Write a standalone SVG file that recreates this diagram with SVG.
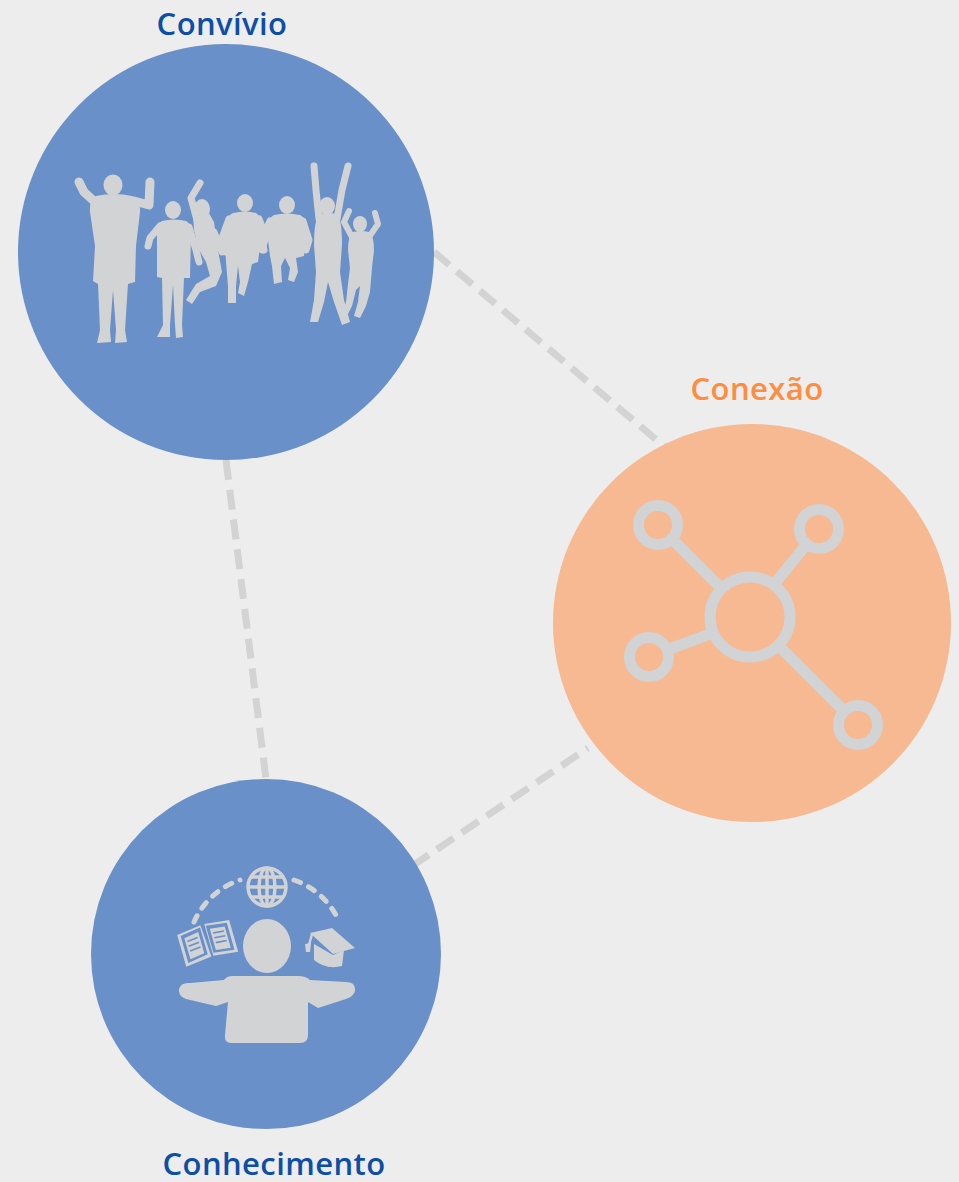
<svg xmlns="http://www.w3.org/2000/svg" width="959" height="1182" viewBox="0 0 959 1182">
  <style>
    .bg { fill: #ededed; }
    .blue { fill: #6990c8; }
    .orange { fill: #f6b992; }
    .link { stroke: #d3d3d3; stroke-width: 7; stroke-dasharray: 20 10; fill: none; }
    .ico { fill: #d1d3d5; }
    .limb { stroke: #d1d3d5; fill: none; stroke-linecap: round; stroke-linejoin: round; }
    .net { stroke: #d1d3d5; fill: none; }
    .label { font-family: "Open Sans", "Noto Sans", sans-serif; font-weight: 600; font-size: 31px; letter-spacing: 0.4px; text-anchor: middle; }
    .lb { fill: #0d4ea6; }
    .lo { fill: #ff8c3f; }
  </style>
  <rect class="bg" x="0" y="0" width="959" height="1182"/>

  <!-- dashed links between the three themes -->
  <g id="connectors">
    <line class="link" x1="434" y1="252" x2="665" y2="447"/>
    <line class="link" x1="226" y1="460" x2="266" y2="779"/>
    <line class="link" x1="412" y1="866" x2="588" y2="748"/>
  </g>

  <!-- Convívio: group of jumping people -->
  <g id="convivio">
    <circle class="blue" cx="226" cy="252" r="208"/>
    <text class="label lb" x="222" y="35">Convívio</text>
    <g class="people">
      <!-- adult, arms raised -->
      <ellipse class="ico" cx="113" cy="185" rx="9.5" ry="10.5"/>
      <path class="ico" d="M96,196 Q114,192 132,196 Q141,199 140,212 L136,246 L135,282 L128,284 L125,330 L127,342 L115,343 L116,330 L113,290 L110,330 L111,342 L97,343 L100,330 L98,284 L93,281 L95,246 L90,212 Q89,200 96,196 Z"/>
      <path class="limb" stroke-width="9" d="M95,202 L84,192 L79,182"/>
      <path class="limb" stroke-width="9" d="M134,201 L149,205 L150,182"/>
      <!-- boy standing -->
      <ellipse class="ico" cx="173" cy="210" rx="8" ry="9"/>
      <path class="ico" d="M162,221 Q174,218 186,221 Q192,224 191,236 L190,278 L184,278 L182,325 L183,337 L176,338 L175,325 L173,285 L170,325 L170,337 L157,337 L163,325 L162,278 L157,277 L157,236 Q156,224 162,221 Z"/>
      <path class="limb" stroke-width="7" d="M160,226 L150,238 L148,246"/>
      <path class="limb" stroke-width="7" d="M189,227 L196,250 L199,262"/>
      <!-- girl jumping, arm up -->
      <ellipse class="ico" cx="202" cy="209" rx="8" ry="10"/>
      <path class="ico" d="M193,214 Q196,204 206,208 L214,222 L218,250 L222,272 L216,286 L200,292 L192,304 L186,300 L196,284 L210,276 L206,262 L198,248 L194,230 Z"/>
      <path class="limb" stroke-width="7" d="M197,220 L191,198 L200,183"/>
      <path class="limb" stroke-width="7" d="M214,232 L222,252"/>
      <!-- boy with bent knees -->
      <ellipse class="ico" cx="245" cy="203" rx="8" ry="9"/>
      <path class="ico" d="M233,213 Q245,210 256,213 Q262,216 262,230 L258,262 L252,264 L248,282 L244,296 L238,293 L240,282 L238,266 L236,286 L236,303 L228,303 L228,286 L226,262 L224,230 Q225,216 233,213 Z"/>
      <path class="limb" stroke-width="7" d="M229,219 L222,238 L226,252"/>
      <path class="limb" stroke-width="7" d="M259,219 L266,236 L262,250"/>
      <!-- boy tucked jump -->
      <ellipse class="ico" cx="287" cy="205" rx="8" ry="9"/>
      <path class="ico" d="M274,215 Q287,212 300,215 Q307,218 307,232 L304,256 L296,258 L298,272 L294,282 L288,280 L290,268 L285,258 L281,266 L282,282 L274,284 L272,266 L270,256 L267,232 Q267,218 274,215 Z"/>
      <path class="limb" stroke-width="7" d="M270,221 L262,240 L264,250"/>
      <path class="limb" stroke-width="7" d="M303,221 L309,240 L306,250"/>
      <!-- tall one, both arms up -->
      <ellipse class="ico" cx="327" cy="206" rx="8" ry="9"/>
      <path class="ico" d="M320,214 Q328,212 337,214 Q342,218 342,245 L340,272 L344,300 L350,322 L342,325 L334,302 L328,282 L324,302 L318,322 L310,322 L314,300 L316,272 L314,245 Q314,218 320,214 Z"/>
      <path class="limb" stroke-width="7" d="M319,219 L316,190 L314,166"/>
      <path class="limb" stroke-width="7" d="M337,219 L342,190 L348,166"/>
      <!-- small child, arms up -->
      <ellipse class="ico" cx="360" cy="224" rx="7" ry="8"/>
      <path class="ico" d="M353,232 Q361,230 369,232 Q374,236 374,250 L372,268 L370,292 L366,306 L360,318 L354,316 L358,302 L360,286 L356,290 L352,306 L344,322 L340,318 L346,302 L348,284 L350,268 L348,250 Q348,236 353,232 Z"/>
      <path class="limb" stroke-width="6" d="M352,237 L344,222 L349,211"/>
      <path class="limb" stroke-width="6" d="M369,237 L378,224 L375,213"/>
    </g>
  </g>

  <!-- Conexão: network hub icon -->
  <g id="conexao">
    <circle class="orange" cx="752" cy="623" r="199"/>
    <text class="label lo" x="757" y="400">Conexão</text>
    <g class="net" stroke-width="11">
      <line x1="672" y1="539" x2="721" y2="588"/>
      <line x1="806" y1="545" x2="776" y2="582"/>
      <line x1="667" y1="650" x2="710" y2="634"/>
      <line x1="781" y1="648" x2="842" y2="709"/>
      <circle cx="750" cy="617" r="40"/>
      <circle cx="658" cy="525" r="19.5"/>
      <circle cx="819" cy="529" r="19.5"/>
      <circle cx="649" cy="657" r="19.5"/>
      <circle cx="858" cy="725" r="19.5"/>
    </g>
  </g>

  <!-- Conhecimento: person juggling book, globe and cap -->
  <g id="conhecimento">
    <circle class="blue" cx="266" cy="954" r="175"/>
    <text class="label lb" x="274" y="1175">Conhecimento</text>
    <!-- dashed arc -->
    <path class="limb" stroke-width="5" stroke-dasharray="7 9" d="M194,922 A77,77 0 0 1 240,880"/>
    <path class="limb" stroke-width="5" stroke-dasharray="7 9" d="M294,880 A77,77 0 0 1 339,921"/>
    <!-- globe -->
    <g class="net" stroke-width="3.5">
      <circle cx="267" cy="887" r="19"/>
      <ellipse cx="267" cy="887" rx="8" ry="19"/>
      <line x1="267" y1="868" x2="267" y2="906"/>
      <line x1="248" y1="887" x2="286" y2="887"/>
      <line x1="251" y1="877" x2="283" y2="877"/>
      <line x1="251" y1="897" x2="283" y2="897"/>
    </g>
    <!-- open book -->
    <g transform="translate(207,941) rotate(-16)">
      <path class="ico" d="M-27,-14 L-2,-17 L0,16 L-27,19 Z"/>
      <path class="ico" d="M2,-17 L27,-14 L27,19 L2,16 Z"/>
      <path d="M-24,-12 L-3,-15 L-3,13 L-24,16 Z M3,-15 L24,-12 L24,16 L3,13 Z" fill="#6990c8"/>
      <path d="M-21,-9 L-6,-11 L-6,11 L-21,13 Z M6,-11 L21,-9 L21,13 L6,11 Z" fill="#d1d3d5"/>
      <g stroke="#6990c8" stroke-width="1.6">
        <line x1="-19" y1="-5" x2="-8" y2="-6"/>
        <line x1="-19" y1="0" x2="-8" y2="-1"/>
        <line x1="-19" y1="5" x2="-8" y2="4"/>
        <line x1="8" y1="-6" x2="19" y2="-5"/>
        <line x1="8" y1="-1" x2="19" y2="0"/>
        <line x1="8" y1="4" x2="19" y2="5"/>
      </g>
    </g>
    <!-- graduation cap -->
    <path class="ico" d="M310,933 L332,928 L355,948 L333,954 Z"/>
    <path class="ico" d="M314,944 L314,960 Q326,970 342,966 L344,950 L333,955 Z"/>
    <path class="limb" stroke-width="2.5" d="M312,934 L309,945"/>
    <path class="ico" d="M305,944 L311,943 L310,952 L306,952 Z"/>
    <!-- person -->
    <ellipse class="ico" cx="267" cy="946" rx="24" ry="27"/>
    <path class="ico" d="M232,976 L298,976 Q306,976 310,980 L346,982 Q356,982 355,991 Q354,996 346,999 L318,1008 L308,1002 L308,1035 Q308,1043 300,1043 L232,1043 Q224,1043 225,1035 L228,1002 L216,1006 L186,999 Q178,996 179,989 Q181,982 190,983 L224,980 Q227,976 232,976 Z"/>
  </g>
</svg>
